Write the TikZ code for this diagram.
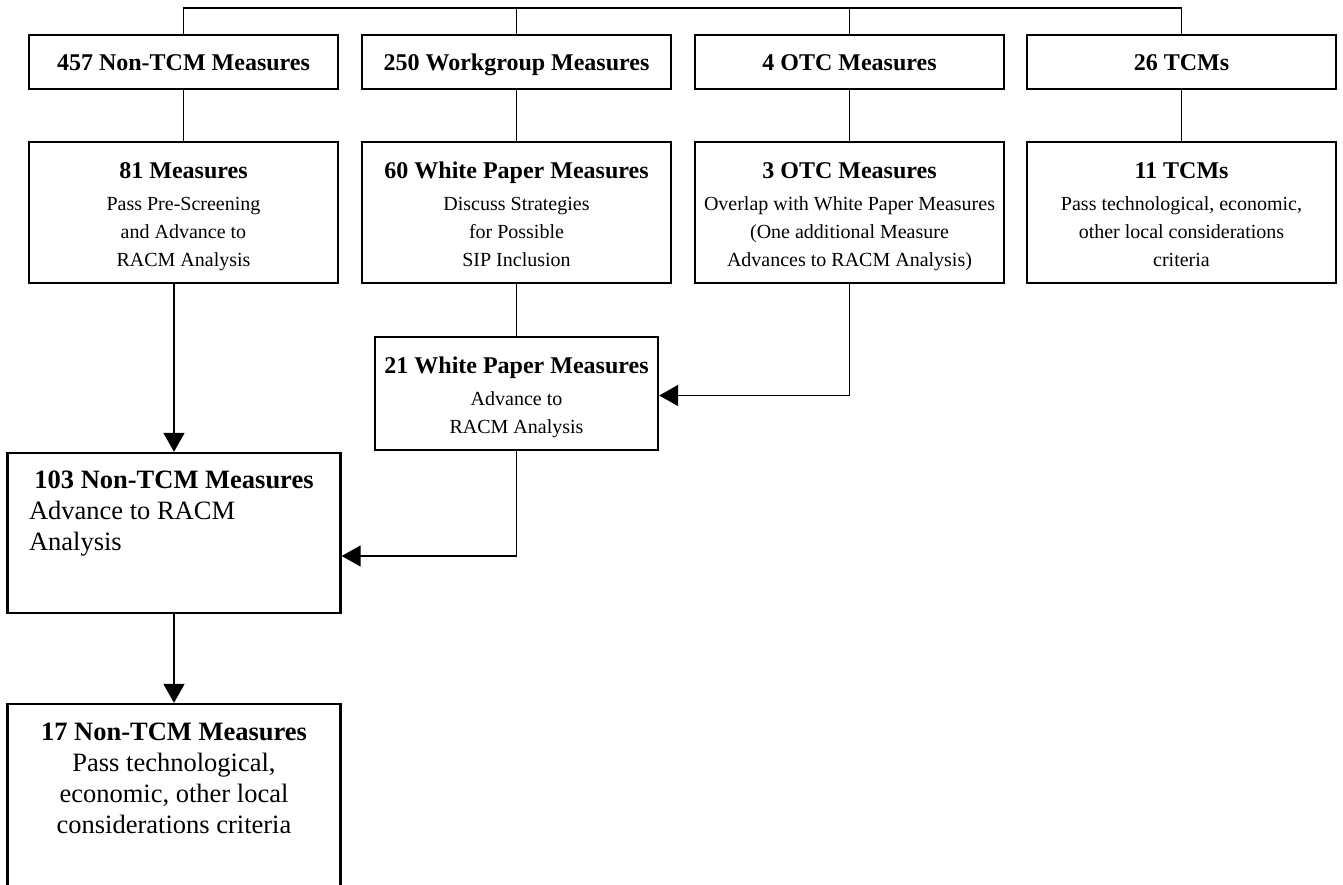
\documentclass[tikz,border=0pt]{standalone}
\usepackage{fontspec}
\setmainfont{Liberation Serif}
\usetikzlibrary{positioning}
\usetikzlibrary{calc}
\usetikzlibrary{arrows.meta}
\newcommand{\msrtitle}[1]{{\large\bfseries\rule{0pt}{12.5pt}#1}\\[2pt]}
\newcommand{\msrend}{\rule[-3pt]{0pt}{3pt}}
\tikzset{>={Triangle[length=9.5pt,width=10.5pt]}}
\tikzset{measure/.style={draw,line width=1.2pt,inner sep=2pt,align=center,minimum width=154.5pt,font=\fontsize{10pt}{14pt}\selectfont}}
\tikzset{head/.style={measure,minimum height=27pt,text height=10.5pt,text depth=2.5pt}}
\tikzset{stage/.style={measure,minimum height=70.5pt}}
\tikzset{tall/.style={draw,line width=1.2pt,inner sep=0pt,minimum width=166.5pt,font=\fontsize{13.25pt}{15.5pt}\selectfont}}
\tikzset{link/.style={line width=0.9pt}}

\begin{document}
\begin{tikzpicture}[x=0.5pt,y=-0.5pt,on grid]
\useasboundingbox (0,0) rectangle (1343,884);
\clip (0,0) rectangle (1343,884);
\coordinate (bus) at (0,8);

% first row
\node[head] (nt457) at (183.5,62) {\large\bfseries 457 Non-TCM Measures};
\node[head] (wg250) [right=166.5pt of nt457] {\large\bfseries 250 Workgroup Measures};
\node[head] (otc4) [right=166.5pt of wg250] {\large\bfseries 4 OTC Measures};
\node[head] (tcm26) [right=166pt of otc4] {\large\bfseries 26 TCMs};

\draw[link] (nt457.north) |- (bus -| tcm26.north) -- (tcm26.north);
\draw[link] (wg250.north) -- (wg250.north |- bus);
\draw[link] (otc4.north) -- (otc4.north |- bus);

% second row
\node[stage] (m81) [below=75.25pt of nt457] {\msrtitle{81 Measures}Pass Pre-Screening\\and Advance to\\RACM Analysis\msrend};
\node[stage] (wp60) [below=75.25pt of wg250] {\msrtitle{60 White Paper Measures}Discuss Strategies\\for Possible\\SIP Inclusion\msrend};
\node[stage] (otc3) [below=75.25pt of otc4] {\msrtitle{3 OTC Measures}Overlap with White Paper Measures\\(One additional Measure\\Advances to RACM Analysis)\msrend};
\node[stage] (tcm11) [below=75.25pt of tcm26] {\msrtitle{11 TCMs}Pass technological, economic,\\other local considerations\\criteria\msrend};

\draw[link] (nt457.south) -- (m81.north);
\draw[link] (wg250.south) -- (wp60.north);
\draw[link] (otc4.south) -- (otc3.north);
\draw[link] (tcm26.south) -- (tcm11.north);

\node[stage,minimum width=141.5pt,minimum height=56.5pt] (wp21) [below=90.5pt of wp60] {\msrtitle{21 White Paper Measures}Advance to\\RACM Analysis\msrend};
\draw[link] (wp60.south) -- (wp21.north);
\draw[link,->] (otc3.south) |- ($(wp21.east)+(0,2)$);

% left column
\node[tall,minimum height=80pt] (n103) at (174,533) {\parbox[c][62pt][t]{145pt}{{\centering\bfseries 103 Non-TCM Measures\par}Advance to RACM\\Analysis}};
\node[tall,minimum height=100pt] (n17) [below=135.5pt of n103] {\parbox[c][81pt][t]{145pt}{\centering{\bfseries 17 Non-TCM Measures}\\Pass technological,\\economic, other local\\considerations criteria}};

\draw[link,->] (m81.south -| n103.north) -- (n103.north);
\draw[link,->] (wp21.south) |- ($(n103.east)+(0,23)$);
\draw[link,->] (n103.south) -- (n17.north);
\end{tikzpicture}
\end{document}
